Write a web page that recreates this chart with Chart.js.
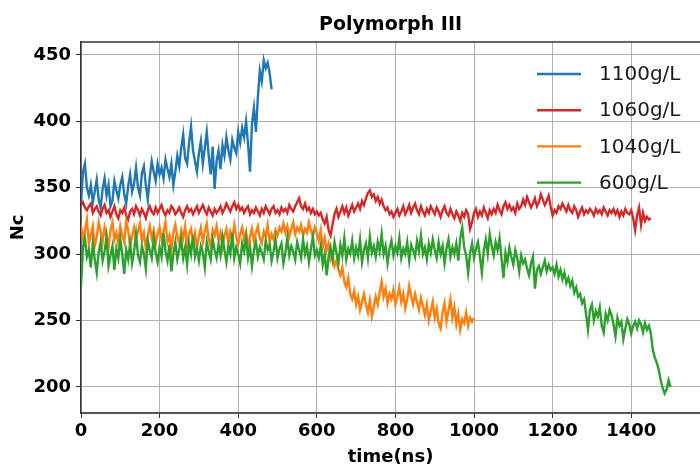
<!DOCTYPE html>
<html>
<head>
<meta charset="utf-8">
<script src="https://cdn.jsdelivr.net/npm/chart.js@4/dist/chart.umd.min.js"></script>
<style>
html,body{margin:0;padding:0;background:#fff;}
#wrap{width:700px;height:470px;}
</style>
</head>
<body>
<div id="wrap"><canvas id="c" width="700" height="470"></canvas></div>
<script>
// ---- data (time step in ns between samples) ----
const STEP = 5;
const seriesLabels = ['1100g/L', '1060g/L', '1040g/L', '600g/L'];
const seriesColors = ['#1f77b4', '#d62728', '#ff7f0e', '#2ca02c'];
const xTicks = [0, 200, 400, 600, 800, 1000, 1200, 1400];
const yTicks = [200, 250, 300, 350, 400, 450];

const nc1100 = [
  338,362,368,350,344,352,339,347,356,341, 335,349,357,344,352,336,340,355,348,342,
  352,358,345,338,351,360,347,353,365,350, 344,361,366,352,341,358,370,362,355,368,
  360,365,357,371,364,358,368,352,362,374, 366,380,390,372,368,384,396,378,370,362,
  376,385,368,380,392,374,360,381,349,370, 378,364,382,374,388,378,371,386,380,376,
  392,384,395,388,400,383,362,398,410,392, 418,438,430,446,440,444,436,424];

const nc1060 = [
  337,339,335,333,336,338,331,334,336,332, 329,334,337,331,333,328,332,336,330,327,
  333,331,335,329,326,332,334,330,336,333, 329,334,331,327,333,336,332,330,335,331,
  334,337,332,329,333,331,336,334,330,332, 335,331,328,333,336,332,334,330,333,336,
  331,334,337,333,330,335,332,329,334,331, 333,336,331,334,338,335,332,336,339,334,
  337,333,335,331,334,336,330,333,331,335, 332,329,334,331,336,333,330,334,336,331,
  333,330,335,332,334,331,337,334,332,336, 339,342,336,334,338,333,335,331,334,330,
  332,329,331,326,323,328,318,314,322,330, 334,328,332,336,331,335,329,333,337,332,
  335,338,334,340,337,342,346,348,343,345, 340,343,338,341,336,333,335,330,332,328,
  331,334,329,332,336,330,333,337,331,335, 338,333,330,336,332,329,334,331,336,333,
  330,335,332,328,333,336,331,329,334,330, 327,332,329,325,331,328,333,330,319,324,
  331,334,328,332,329,335,331,327,333,330, 334,331,337,333,330,336,339,334,337,333,
  335,331,338,334,336,341,337,343,339,335, 338,342,336,339,345,341,337,340,344,336,
  329,333,331,336,334,338,335,332,337,333, 331,336,333,328,332,335,330,333,331,334,
  332,329,334,331,333,330,335,332,329,333, 331,334,330,333,328,332,329,334,331,330,
  333,327,318,329,335,322,331,325,328,326, 327];

const nc1040 = [
  322,312,318,326,308,315,321,306,313,324, 317,309,320,313,305,318,324,311,316,308,
  321,314,309,325,318,306,313,320,311,317, 323,310,316,304,314,321,312,318,308,315,
  320,311,317,324,309,314,303,316,322,313, 308,318,312,321,306,315,319,310,316,305,
  313,320,309,317,323,311,306,318,314,321, 310,316,305,314,319,308,317,312,322,313,
  307,315,320,311,317,304,313,319,310,316, 321,312,308,317,313,322,309,315,311,318,
  314,320,317,323,316,321,313,319,324,315, 320,317,322,314,319,316,324,318,313,320,
  316,310,318,305,312,303,308,296,300,291, 295,288,284,290,279,275,282,270,266,272,
  262,268,258,264,270,262,256,265,253,260, 268,262,271,279,268,274,263,270,266,273,
  262,268,275,264,270,259,266,276,268,262, 270,264,258,267,261,254,262,250,257,264,
  252,259,248,244,256,263,249,258,266,252, 260,247,255,243,251,248,256,246,252,249,
  252];

const nc600 = [
  276,305,312,298,303,290,308,296,286,301, 309,295,302,313,291,299,306,288,304,297,
  311,300,285,303,296,308,293,302,315,299, 294,306,300,289,310,303,297,312,301,294,
  305,298,316,302,295,307,287,300,309,296, 303,311,297,305,292,308,300,314,298,304,
  295,306,301,290,309,302,296,311,303,297, 307,299,313,303,294,306,300,316,297,305,
  300,293,308,302,312,297,305,291,303,309, 298,305,301,296,310,303,307,295,302,311,
  297,304,308,293,301,312,299,306,302,296, 309,303,297,311,300,306,294,304,313,299,
  303,297,306,292,300,284,298,305,296,309, 301,293,307,299,312,296,304,300,310,297,
  305,299,311,294,303,308,297,313,301,306, 298,309,302,315,300,306,293,304,310,299,
  306,301,312,297,304,300,309,295,307,303, 298,310,302,314,300,305,296,308,301,311,
  303,297,309,300,306,293,304,311,298,305, 300,308,295,312,320,305,299,286,301,308,
  297,304,309,298,286,303,311,300,315,306, 299,309,303,312,297,282,301,294,305,298,
  292,303,297,287,299,293,296,289,284,293, 298,274,288,291,285,290,295,287,292,288,
  290,285,292,283,288,281,286,278,282,276, 280,271,275,268,270,263,266,255,243,258,
  262,250,257,253,260,246,241,255,250,258, 254,247,238,252,246,249,236,244,251,247,
  240,246,249,244,250,247,241,248,243,246, 240,228,222,218,213,205,199,195,198,205,
  200];

const seriesValues = [nc1100, nc1060, nc1040, nc600];

function toPoints(arr) { return arr.map((v, i) => ({ x: i * STEP, y: v })); }

const datasets = seriesValues.map((arr, k) => ({
  label: seriesLabels[k],
  data: toPoints(arr),
  borderColor: seriesColors[k],
  backgroundColor: seriesColors[k],
  borderWidth: 2.4,
  pointRadius: 0,
  tension: 0,
  fill: false,
  order: seriesValues.length - k
}));

const FONT = "'DejaVu Sans', 'Liberation Sans', sans-serif";

const framePlugin = {
  id: 'frameAndLegend',
  afterDatasetsDraw(chart) {
    const { ctx, chartArea: a } = chart;
    ctx.save();
    ctx.strokeStyle = '#333';
    ctx.lineWidth = 1.5;
    ctx.beginPath();
    ctx.moveTo(a.left, a.top);
    ctx.lineTo(a.right, a.top);
    ctx.stroke();
    ctx.font = '20px ' + FONT;
    ctx.textBaseline = 'middle';
    ctx.textAlign = 'left';
    seriesLabels.forEach((lab, i) => {
      const y = a.top + 32 + i * 36.2;
      ctx.strokeStyle = seriesColors[i];
      ctx.lineWidth = 2.4;
      ctx.beginPath();
      ctx.moveTo(a.right - 163, y);
      ctx.lineTo(a.right - 119, y);
      ctx.stroke();
      ctx.fillStyle = '#1a1a1a';
      ctx.fillText(lab, a.right - 101, y + 1);
    });
    ctx.restore();
  }
};

new Chart(document.getElementById('c'), {
  type: 'line',
  data: { datasets },
  options: {
    responsive: false,
    animation: false,
    devicePixelRatio: 1,
    layout: { padding: { left: 0, right: 0, top: 0, bottom: 0 } },
    plugins: {
      legend: { display: false },
      tooltip: { enabled: false },
      title: {
        display: true,
        text: 'Polymorph III',
        fullSize: false,
        color: '#000',
        font: { family: FONT, size: 19, weight: 'bold' },
        padding: { top: 13.6, bottom: 5.6 }
      }
    },
    scales: {
      x: {
        type: 'linear',
        min: 0,
        max: 1575,
        afterBuildTicks: s => { s.ticks = xTicks.map(v => ({ value: v })); },
        afterFit: s => { s.height = 57; },
        ticks: {
          autoSkip: false, maxRotation: 0, padding: 3,
          color: '#000',
          font: { family: FONT, size: 18, weight: 'bold' },
          callback: v => String(v)
        },
        grid: { color: '#b0b0b0', lineWidth: 1, tickColor: '#333', tickLength: 5, tickWidth: 1 },
        border: { color: '#555', width: 2 },
        title: {
          display: true, text: 'time(ns)', color: '#000',
          font: { family: FONT, size: 18, weight: 'bold' },
          padding: { top: 0, bottom: 2 }
        }
      },
      y: {
        type: 'linear',
        min: 180.3,
        max: 459.7,
        afterBuildTicks: s => { s.ticks = yTicks.map(v => ({ value: v })); },
        afterFit: s => { s.width = 81; },
        ticks: {
          padding: 5,
          color: '#000',
          font: { family: FONT, size: 18, weight: 'bold' },
          callback: v => String(v)
        },
        grid: { color: '#b0b0b0', lineWidth: 1, tickColor: '#333', tickLength: 5, tickWidth: 1 },
        border: { color: '#333', width: 1.5 },
        title: {
          display: true, text: 'Nc', color: '#000',
          font: { family: FONT, size: 18, weight: 'bold' },
          padding: { top: 8, bottom: 0 }
        }
      }
    }
  },
  plugins: [framePlugin]
});
</script>
</body>
</html>
